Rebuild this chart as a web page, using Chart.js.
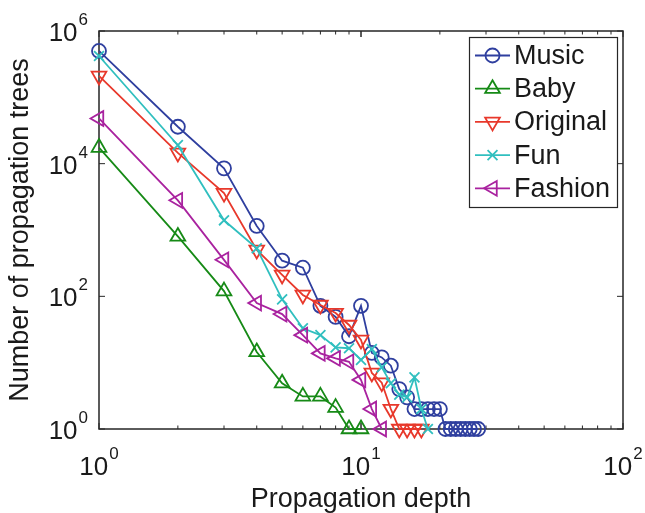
<!DOCTYPE html>
<html>
<head>
<meta charset="utf-8">
<script src="https://cdn.jsdelivr.net/npm/chart.js@4"></script>
<style>
html,body{margin:0;padding:0;background:#fff;}
#wrap{width:645px;height:513px;position:relative;}
</style>
</head>
<body>
<div id="wrap"><canvas id="c" width="645" height="513"></canvas></div>
<script>
// ---- data ----
const depth = [1,2,3,4,5,6,7,8,9,10,11,12,13,14,15,16,17,18,19,20,21,22,23,24,25,26,27,28];
const seriesNames = ['Music','Baby','Original','Fun','Fashion'];
const music    = [5e5, 3.6e4, 8500, 1150, 345, 270, 72, 49, 25, 72, 14, 12, 9, 4, 3, 2, 2, 2, 2, 2, 1, 1, 1, 1, 1, 1, 1, 1];
const baby     = [1.75e4, 800, 120, 14.5, 4.9, 3.1, 3.1, 2.1, 1, 1];
const original = [2.1e5, 1.45e4, 3600, 500, 210, 105, 74, 56, 37, 22, 7, 5, 2, 1, 1, 1, 1];
const fun      = [4.2e5, 1.9e4, 1400, 530, 90, 33, 26, 17, 16.5, 11, 16, 8.5, 4.9, 3.3, 3, 6, 2, 1];
const fashion  = [4.8e4, 2800, 355, 79, 54, 26, 13.8, 11.6, 10.3, 5.5, 2, 1];
const xTickExps = [0, 1, 2];
const yTickExps = [0, 2, 4, 6];
const xTitle = 'Propagation depth';
const yTitle = 'Number of propagation trees';

// ---- styles ----
const FONT = "'Liberation Sans', Arial, Helvetica, sans-serif";
const styles = [
  {color:'#2f3f9f', pointStyle:'circle',   rotation:0,   radius:7},
  {color:'#168a16', pointStyle:'triangle', rotation:0,   radius:8.5},
  {color:'#e8382b', pointStyle:'triangle', rotation:180, radius:8.5},
  {color:'#30bfbf', pointStyle:'crossRot', rotation:0,   radius:7},
  {color:'#a9229f', pointStyle:'triangle', rotation:270, radius:8.5}
];
const allSeries = [music, baby, original, fun, fashion];

function toPoints(vals){ return vals.map((v,i)=>({x:depth[i], y:v})); }

const datasets = allSeries.map((vals,i)=>({
  label: seriesNames[i],
  data: toPoints(vals),
  borderColor: styles[i].color,
  backgroundColor: 'rgba(0,0,0,0)',
  pointBorderColor: styles[i].color,
  pointBackgroundColor: 'rgba(0,0,0,0)',
  pointStyle: styles[i].pointStyle,
  pointRotation: styles[i].rotation,
  pointRadius: styles[i].radius,
  pointBorderWidth: 1.8,
  borderWidth: 1.8,
  tension: 0,
  fill: false,
  clip: false,
  order: allSeries.length - i
}));

function drawMarker(ctx, st, x, y){
  const r = st.radius;
  ctx.beginPath();
  if (st.pointStyle === 'circle') {
    ctx.arc(x, y, r, 0, Math.PI*2);
  } else if (st.pointStyle === 'triangle') {
    let rad = st.rotation*Math.PI/180;
    for (let k=0;k<3;k++){
      const px = x + Math.sin(rad)*r, py = y - Math.cos(rad)*r;
      if (k===0) ctx.moveTo(px,py); else ctx.lineTo(px,py);
      rad += 2*Math.PI/3;
    }
    ctx.closePath();
  } else if (st.pointStyle === 'crossRot') {
    const o = Math.cos(Math.PI/4)*r;
    ctx.moveTo(x-o,y-o); ctx.lineTo(x+o,y+o);
    ctx.moveTo(x-o,y+o); ctx.lineTo(x+o,y-o);
  }
  ctx.stroke();
}

function drawPow(ctx, exp, x, baseY, align){
  ctx.font = '26px ' + FONT;
  const w1 = ctx.measureText('10').width;
  ctx.font = '17px ' + FONT;
  const es = String(exp);
  const w2 = ctx.measureText(es).width;
  const total = w1 + 1 + w2;
  const left = align === 'center' ? x - total/2 : x - total;
  ctx.textAlign = 'left';
  ctx.textBaseline = 'alphabetic';
  ctx.font = '26px ' + FONT;
  ctx.fillText('10', left, baseY);
  ctx.font = '17px ' + FONT;
  ctx.fillText(es, left + w1 + 1, baseY - 16);
}

const axesPlugin = {
  id: 'matlabAxes',
  beforeDatasetsDraw(chart){
    const ctx = chart.ctx, a = chart.chartArea;
    const xs = chart.scales.x, ys = chart.scales.y;
    ctx.save();
    ctx.strokeStyle = '#262626';
    ctx.lineWidth = 1.5;
    ctx.strokeRect(a.left, a.top, a.right - a.left, a.bottom - a.top);
    ctx.lineWidth = 1;
    // x ticks (major and minor), bottom and top
    for (let d = 0; d < 2; d++){
      for (let m = 1; m <= 10; m++){
        const v = m * Math.pow(10, d);
        const px = xs.getPixelForValue(v);
        const len = (m === 1 || m === 10) ? 6 : 3.5;
        ctx.beginPath();
        ctx.moveTo(px, a.bottom); ctx.lineTo(px, a.bottom - len);
        ctx.moveTo(px, a.top); ctx.lineTo(px, a.top + len);
        ctx.stroke();
      }
    }
    // y ticks, left and right
    yTickExps.forEach(e=>{
      const py = ys.getPixelForValue(Math.pow(10,e));
      ctx.beginPath();
      ctx.moveTo(a.left, py); ctx.lineTo(a.left + 6, py);
      ctx.moveTo(a.right, py); ctx.lineTo(a.right - 6, py);
      ctx.stroke();
    });
    ctx.restore();
  },
  afterDraw(chart){
    const ctx = chart.ctx, a = chart.chartArea;
    const xs = chart.scales.x, ys = chart.scales.y;
    ctx.save();
    ctx.fillStyle = '#1a1a1a';
    xTickExps.forEach(e=>{
      drawPow(ctx, e, xs.getPixelForValue(Math.pow(10,e)), 475, 'center');
    });
    yTickExps.forEach(e=>{
      drawPow(ctx, e, a.left - 11, ys.getPixelForValue(Math.pow(10,e)) + 10, 'right');
    });
    // axis titles
    ctx.font = '27px ' + FONT;
    ctx.textAlign = 'center';
    ctx.textBaseline = 'alphabetic';
    ctx.fillText(xTitle, (a.left + a.right)/2, 507);
    ctx.save();
    ctx.translate(28, (a.top + a.bottom)/2);
    ctx.rotate(-Math.PI/2);
    ctx.fillText(yTitle, 0, 0);
    ctx.restore();
    // legend
    const lx = 469, ly = 37, lw = 148, lh = 170;
    ctx.fillStyle = '#ffffff';
    ctx.fillRect(lx, ly, lw, lh);
    ctx.strokeStyle = '#262626';
    ctx.lineWidth = 1.2;
    ctx.strokeRect(lx + 0.5, ly + 0.5, lw, lh);
    seriesNames.forEach((name, i)=>{
      const y = 55.5 + i*33.2;
      const st = styles[i];
      ctx.strokeStyle = st.color;
      ctx.lineWidth = 1.8;
      ctx.beginPath();
      ctx.moveTo(475, y); ctx.lineTo(510, y);
      ctx.stroke();
      drawMarker(ctx, st, 492.5, y);
      ctx.fillStyle = '#1a1a1a';
      ctx.font = '27px ' + FONT;
      ctx.textAlign = 'left';
      ctx.textBaseline = 'middle';
      ctx.fillText(name, 514, y + 1);
    });
    ctx.restore();
  }
};

new Chart(document.getElementById('c'), {
  type: 'line',
  data: { datasets },
  options: {
    responsive: false,
    devicePixelRatio: 1,
    animation: false,
    events: [],
    layout: { padding: { left: 99, top: 31, right: 22, bottom: 84 } },
    plugins: { legend: { display: false }, tooltip: { enabled: false }, title: { display: false } },
    scales: {
      x: { type: 'logarithmic', min: 1, max: 100, display: false },
      y: { type: 'logarithmic', min: 1, max: 1e6, display: false }
    }
  },
  plugins: [axesPlugin]
});
</script>
</body>
</html>
